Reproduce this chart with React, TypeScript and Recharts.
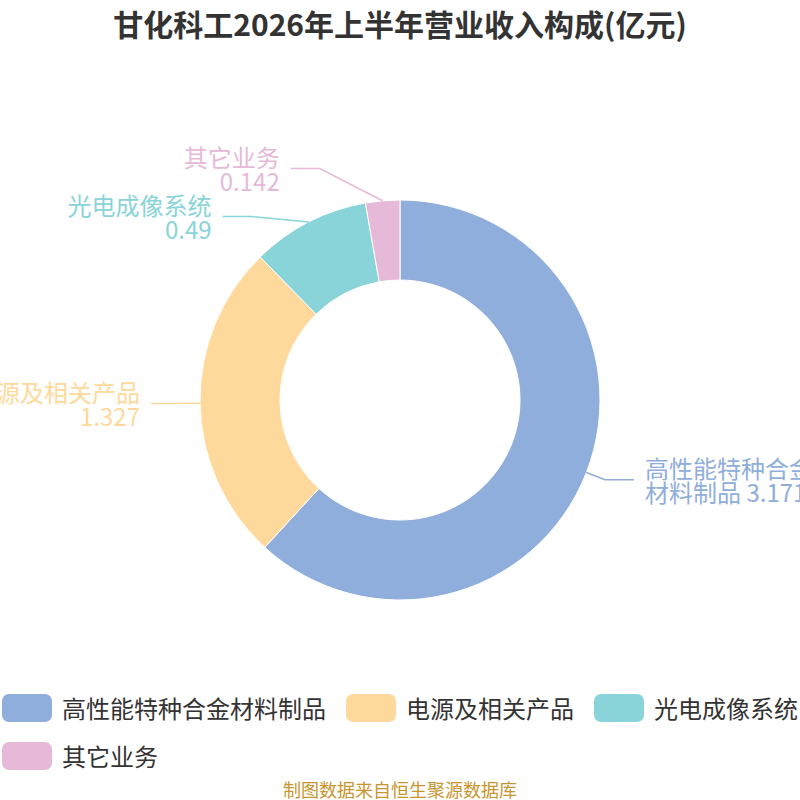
import {PieChart, Pie, Cell} from 'recharts';

// 营业收入构成 (亿元)
const names = ['高性能特种合金材料制品', '电源及相关产品', '光电成像系统', '其它业务'];
const values = [3.171, 1.327, 0.49, 0.142];
const colors = ['#8faedb', '#ffd99b', '#88d4d8', '#e7b9d8'];

const data = names.map((name, i) => ({name, value: values[i]}));

const FONT = '"Noto Sans CJK SC", "Noto Sans", sans-serif';
const CX = 400;
const CY = 400;
const OUTER = 200;
const INNER = 120;
const LEN = 20; // first label line segment
const LEN2 = 29; // horizontal segment
const GAP = 11; // line end -> text
const LINE_H = 24;

const RAD = Math.PI / 180;
const polar = (r: number, deg: number) => ({
    x: CX + r * Math.cos(-deg * RAD),
    y: CY + r * Math.sin(-deg * RAD),
});

interface LabelPos {
    edge: { x: number; y: number };
    knee: { x: number; y: number };
    dir: number;
}

// label layout: radial knee, then push apart labels on the same side
const buildLayout = (): LabelPos[] => {
    const total = values.reduce((a, b) => a + b, 0);
    let acc = 0;
    const items = values.map((v) => {
        const mid = 90 - ((acc + v / 2) / total) * 360;
        acc += v;
        const dir = Math.cos(mid * RAD) >= 0 ? 1 : -1;
        return {edge: polar(OUTER, mid), knee: polar(OUTER + LEN, mid), dir, shifted: false};
    });
    [1, -1].forEach((dir) => {
        const side = items.filter((it) => it.dir === dir).sort((a, b) => a.knee.y - b.knee.y);
        for (let k = 1; k < side.length; k++) {
            const a = side[k - 1];
            const b = side[k];
            const d = LINE_H * 2 - (b.knee.y - a.knee.y);
            if (d > 0) {
                a.knee.y -= d / 2;
                b.knee.y += d / 2;
                a.shifted = true;
                b.shifted = true;
            }
        }
    });
    const rA = OUTER + LEN;
    const rB = rA * 1.13;
    items.forEach((it) => {
        if (!it.shifted) return;
        const dy = it.knee.y - CY;
        it.knee.x = CX + it.dir * rA * Math.sqrt(Math.max(0, 1 - (dy * dy) / (rB * rB)));
    });
    return items;
};

const layout = buildLayout();

const labelLines = (i: number) => {
    const n = names[i];
    if (n.length > 8) return [n.slice(0, 7), `${n.slice(7)} ${values[i]}`];
    return [n, String(values[i])];
};

const renderLabel = (props: { index?: number }) => {
    const i = props.index ?? 0;
    const {edge, knee, dir} = layout[i];
    const endX = knee.x + dir * LEN2;
    const lines = labelLines(i);
    return (
        <g key={`label-${i}`}>
            <polyline
                points={`${edge.x},${edge.y} ${knee.x},${knee.y} ${endX},${knee.y}`}
                fill="none"
                stroke={colors[i]}
                strokeWidth={1.5}
            />
            <text
                x={endX + dir * GAP}
                y={knee.y}
                textAnchor={dir > 0 ? 'start' : 'end'}
                fill={colors[i]}
                fontSize={24}
                fontFamily={FONT}
            >
                {lines.map((t, k) => (
                    <tspan key={k} x={endX + dir * GAP} y={knee.y + (k - 0.5) * LINE_H} dominantBaseline="central">
                        {t}
                    </tspan>
                ))}
            </text>
        </g>
    );
};

const ChartLegend = () => (
    <div style={{
        position: 'absolute', top: 694, left: 2, width: 830,
        display: 'flex', flexWrap: 'wrap', rowGap: 20, fontFamily: FONT,
    }}>
        {names.map((n, i) => (
            <div key={n} style={{display: 'flex', alignItems: 'center', marginRight: 20, height: 28, flexShrink: 0}}>
                <span style={{
                    display: 'block', width: 50, height: 28, borderRadius: 7,
                    background: colors[i], marginRight: 10, flexShrink: 0,
                }}/>
                <span style={{fontSize: 24, color: '#333', lineHeight: '28px', whiteSpace: 'nowrap'}}>{n}</span>
            </div>
        ))}
    </div>
);

export default function App() {
    return (
        <div style={{
            position: 'absolute', left: 0, top: 0, width: 800, height: 800,
            background: '#fff', overflow: 'hidden',
        }}>
            <div style={{
                position: 'absolute', top: 4, left: 0, width: 800, textAlign: 'center',
                fontFamily: FONT, fontWeight: 700, fontSize: 30, color: '#333', lineHeight: '38px', zIndex: 2,
            }}>
                甘化科工2026年上半年营业收入构成(亿元)
            </div>
            <PieChart width={800} height={680} margin={{top: 0, right: 0, bottom: 0, left: 0}}>
                <Pie
                    data={data}
                    dataKey="value"
                    nameKey="name"
                    cx={CX}
                    cy={CY}
                    innerRadius={INNER}
                    outerRadius={OUTER}
                    startAngle={90}
                    endAngle={-270}
                    stroke="#fff"
                    strokeWidth={1}
                    label={renderLabel}
                    labelLine={false}
                    isAnimationActive={false}
                >
                    {data.map((d, i) => (
                        <Cell key={d.name} fill={colors[i]}/>
                    ))}
                </Pie>
            </PieChart>
            <ChartLegend/>
            <div style={{
                position: 'absolute', top: 779, left: 0, width: 800, textAlign: 'center',
                fontFamily: FONT, fontSize: 18, color: '#c8952e', lineHeight: '20px',
            }}>
                制图数据来自恒生聚源数据库
            </div>
        </div>
    );
}
